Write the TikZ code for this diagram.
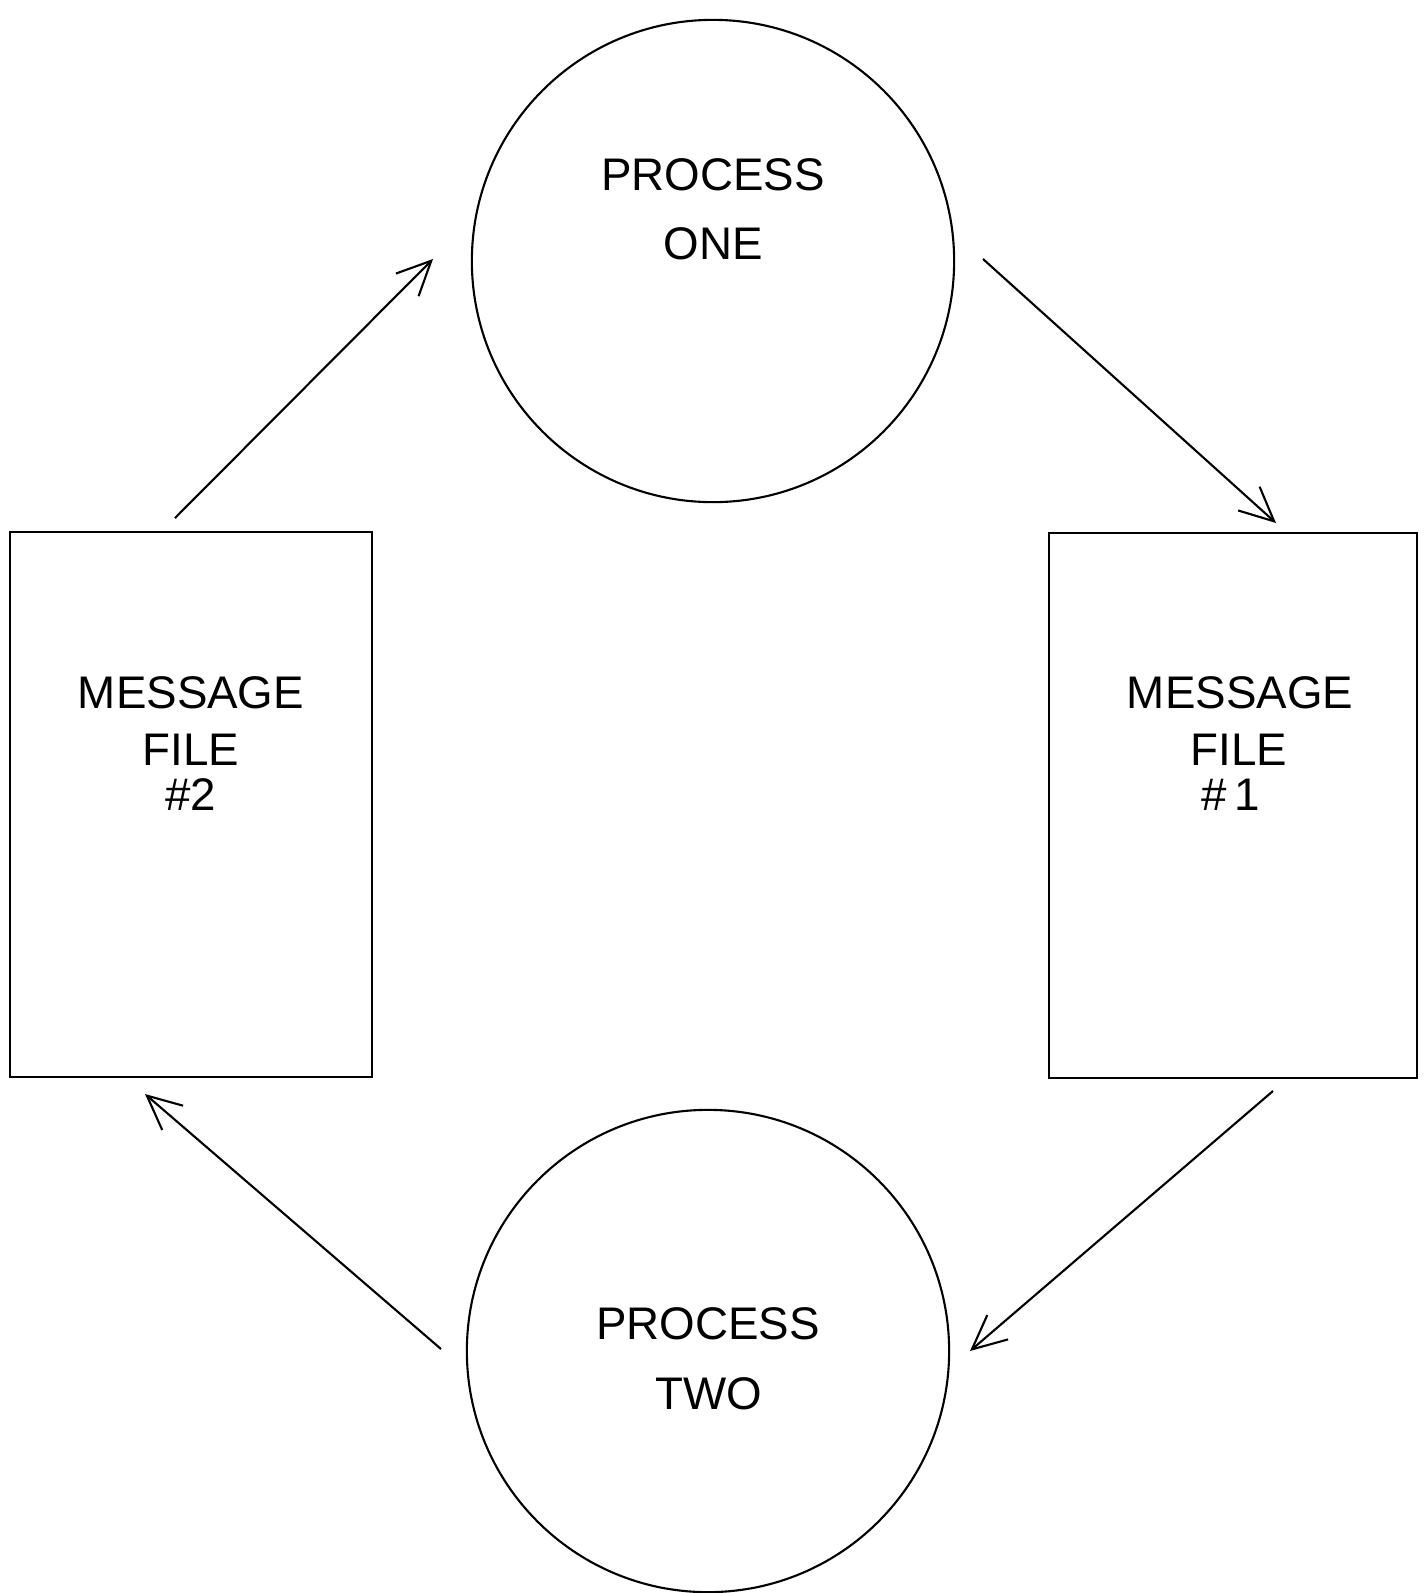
\documentclass[tikz,border=0pt]{standalone}
\usepackage{fontspec}
\setmainfont{Liberation Sans}
\usetikzlibrary{arrows.meta}
\begin{document}
\begin{tikzpicture}[x=0.01cm,y=-0.01cm,
  line width=0.6pt,
  proc/.style={draw,circle,minimum size=4.82cm,inner sep=0pt},
  mfile/.style={draw,rectangle,inner sep=0pt,minimum height=5.45cm},
  lbl/.style={font=\fontsize{13}{15.6}\selectfont,inner sep=0pt,anchor=center,align=center},
  flow/.style={-{Straight Barb[length=0.34cm,width=0.32cm]}}
]
\useasboundingbox (0,0) rectangle (1427,1593);

% processes
\node[proc] (p1) at (713,261) {};
\node[proc] (p2) at (708,1351) {};
% message files
\node[mfile,minimum width=3.62cm] (m2) at (191,804.5) {};
\node[mfile,minimum width=3.68cm] (m1) at (1233,805.5) {};

% labels
\node[lbl] (p1a) at (713,175) {PROCESS};
\node[lbl] (p1b) at (713,244) {ONE};
\node[lbl] (p2a) at (708,1324) {PROCESS};
\node[lbl] (p2b) at (709,1394) {TWO};
\node[lbl] (m2a) at (191,693) {MESSAGE};
\node[lbl] (m2b) at (191,750) {FILE};
\node[lbl] (m2c) at (191,795) {\#2};
\node[lbl] (m1a) at (1240,693) {MESSAGE};
\node[lbl] (m1b) at (1239,750) {FILE};
\node[lbl] (m1c) at (1231,795) {\#\,1};

% connector ends
\coordinate (a1s) at (175,518);
\coordinate (a1e) at (433,259);
\coordinate (a2s) at (983,259);
\coordinate (a2e) at (1276,523);
\coordinate (a3s) at (1273,1091);
\coordinate (a3e) at (970,1351);
\coordinate (a4s) at (441,1349);
\coordinate (a4e) at (145,1094);

\draw[flow] (a1s) -- (a1e);
\draw[flow] (a2s) -- (a2e);
\draw[flow] (a3s) -- (a3e);
\draw[flow] (a4s) -- (a4e);
\end{tikzpicture}
\end{document}
